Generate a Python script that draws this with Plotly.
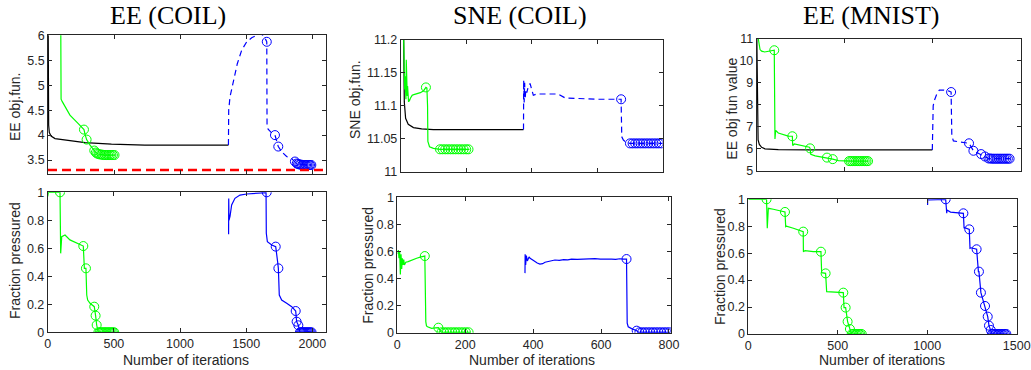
import plotly.graph_objects as go

W, H = 1031, 370

# ---------------- EE (COIL) ----------------
ee_coil_black_it = [0, 2, 3, 5, 10, 23, 53, 128, 280, 480, 733, 1365]
ee_coil_black_val = [7.0, 6.0, 4.6, 4.2, 4.05, 3.98, 3.93, 3.90, 3.85, 3.82, 3.80, 3.80]

ee_coil_green_it = [0, 90, 96, 98, 99, 108, 166, 229, 272, 280, 292, 318, 350, 362, 380, 400, 430, 460, 490, 507]
ee_coil_green_val = [9.0, 8.0, 6.5, 5.0, 4.72, 4.67, 4.40, 4.23, 4.11, 4.02, 3.91, 3.80, 3.69, 3.65, 3.62, 3.61, 3.60, 3.60, 3.60, 3.60]
ee_coil_green_mk_it = [272, 292, 350, 362, 372, 383, 395, 407, 419, 431, 443, 455, 467, 479, 491, 503]
ee_coil_green_mk_val = [4.11, 3.91, 3.69, 3.65, 3.63, 3.62, 3.61, 3.61, 3.60, 3.60, 3.60, 3.60, 3.60, 3.60, 3.60, 3.60]

ee_coil_blue_it = [1365, 1367, 1377, 1402, 1432, 1465, 1503, 1541, 1579, 1610, 1640, 1655, 1657, 1665, 1690, 1717,
                   1730, 1742, 1770, 1805, 1843, 1868, 1880, 1920, 1960, 1995]
ee_coil_blue_val = [3.80, 4.50, 4.77, 5.10, 5.43, 5.70, 5.87, 5.95, 6.01, 6.04, 5.95, 5.87, 4.20, 4.12, 4.05, 4.00,
                    3.88, 3.77, 3.66, 3.57, 3.53, 3.47, 3.43, 3.41, 3.40, 3.40]
ee_coil_blue_mk_it = [1655, 1717, 1742, 1868, 1882, 1892, 1902, 1912, 1922, 1932, 1942, 1952, 1962, 1972, 1982, 1992]
ee_coil_blue_mk_val = [5.87, 4.00, 3.77, 3.47, 3.43, 3.42, 3.41, 3.41, 3.40, 3.40, 3.40, 3.40, 3.40, 3.40, 3.40, 3.40]

ee_coil_ref_it = [0, 2100]
ee_coil_ref_val = [3.3, 3.3]

fp_ee_coil_green_it = [0, 1, 5, 93, 98, 106, 131, 168, 206, 244, 269, 277, 289, 295, 302, 320, 352, 362, 370, 383, 400, 450, 509]
fp_ee_coil_green_val = [0.97, 1.0, 1.0, 1.0, 0.564, 0.683, 0.695, 0.66, 0.643, 0.624, 0.616, 0.457, 0.457, 0.266,
                        0.23, 0.207, 0.183, 0.119, 0.052, 0.0, 0.0, 0.0, 0.0]
fp_ee_coil_green_mk_it = [93, 269, 289, 352, 362, 370, 383, 393, 403, 413, 423, 433, 443, 453, 463, 473, 483, 493, 503]
fp_ee_coil_green_mk_val = [1.0, 0.616, 0.457, 0.183, 0.119, 0.052, 0.0, 0.0, 0.0, 0.0, 0.0, 0.0, 0.0, 0.0, 0.0, 0.0, 0.0, 0.0, 0.0]

fp_ee_coil_blue_it = [1367, 1368, 1370, 1378, 1390, 1415, 1453, 1504, 1579, 1650, 1652, 1660, 1693, 1723, 1738, 1743,
                      1750, 1768, 1806, 1844, 1874, 1881, 1894, 1900, 1906, 1950, 1995]
fp_ee_coil_blue_val = [0.70, 0.955, 0.80, 0.83, 0.91, 0.957, 0.98, 0.988, 0.993, 0.998, 0.707, 0.647, 0.624, 0.612,
                       0.50, 0.457, 0.266, 0.23, 0.207, 0.183, 0.152, 0.076, 0.05, 0.026, 0.0, 0.0, 0.0]
fp_ee_coil_blue_mk_it = [1655, 1723, 1743, 1874, 1881, 1894, 1906, 1914, 1922, 1930, 1938, 1946, 1954, 1962, 1970, 1978, 1986, 1994]
fp_ee_coil_blue_mk_val = [1.0, 0.612, 0.457, 0.152, 0.076, 0.05, 0.0, 0.0, 0.0, 0.0, 0.0, 0.0, 0.0, 0.0, 0.0, 0.0, 0.0, 0.0]

# ---------------- SNE (COIL) ----------------
sne_black_it = [5, 9, 11, 15, 23, 39, 64, 100, 375]
sne_black_val = [11.4, 11.2, 11.106, 11.081, 11.072, 11.067, 11.065, 11.064, 11.064]

sne_green_it = [7, 9, 10, 11, 12, 13, 14, 15, 16, 17, 18, 19, 20, 21, 22, 23, 24, 25, 26, 30, 35, 40, 50, 60, 70,
                77, 80, 82, 83, 88, 100, 120, 150, 180, 210]
sne_green_val = [11.26, 11.2, 11.14, 11.16, 11.125, 11.145, 11.12, 11.135, 11.11, 11.17, 11.12, 11.14, 11.115, 11.13,
                 11.108, 11.12, 11.106, 11.11, 11.107, 11.112, 11.116, 11.117, 11.118, 11.12, 11.123, 11.128, 11.127,
                 11.1, 11.046, 11.038, 11.0355, 11.034, 11.034, 11.034, 11.034]
sne_green_mk_it = [77, 120, 128, 136, 144, 152, 160, 168, 176, 184, 192, 200, 207]
sne_green_mk_val = [11.128, 11.034, 11.034, 11.034, 11.034, 11.034, 11.034, 11.034, 11.034, 11.034, 11.034, 11.034, 11.034]

sne_blue_it = [375, 375.5, 377, 378.5, 380, 382, 385, 390, 395, 405, 415, 450, 481, 502, 542, 600, 644, 673, 675,
               680, 690, 700, 750, 800]
sne_blue_val = [11.064, 11.139, 11.105, 11.135, 11.11, 11.125, 11.12, 11.13, 11.134, 11.116, 11.118, 11.118, 11.118,
                11.112, 11.111, 11.11, 11.11, 11.11, 11.053, 11.048, 11.044, 11.043, 11.043, 11.043]
sne_blue_mk_it = [673, 700, 708, 716, 724, 732, 740, 748, 756, 764, 772, 780, 788, 796]
sne_blue_mk_val = [11.11, 11.043, 11.043, 11.043, 11.043, 11.043, 11.043, 11.043, 11.043, 11.043, 11.043, 11.043, 11.043, 11.043]

fp_sne_green_it = [2, 3, 5, 7, 9, 11, 13, 15, 17, 19, 21, 25, 32, 42, 57, 70, 81, 84, 86, 89, 101, 112, 121, 130, 170, 215]
fp_sne_green_val = [0.58, 0.61, 0.55, 0.60, 0.43, 0.58, 0.47, 0.55, 0.50, 0.54, 0.50, 0.52, 0.525, 0.537, 0.55, 0.56,
                    0.566, 0.08, 0.05, 0.044, 0.032, 0.035, 0.037, 0.003, 0.003, 0.003]
fp_sne_green_mk_it = [81, 121, 130, 138, 146, 154, 162, 170, 178, 186, 194, 202, 210]
fp_sne_green_mk_val = [0.566, 0.037, 0.003, 0.003, 0.003, 0.003, 0.003, 0.003, 0.003, 0.003, 0.003, 0.003, 0.003]

fp_sne_blue_it = [376, 376.5, 378, 380, 383, 388, 391, 400, 405, 412, 420, 428, 435, 450, 464, 477, 490, 502, 513,
                  530, 550, 565, 582, 598, 610, 620, 631, 643, 655, 665, 675, 677, 680, 690, 705, 710, 760, 803]
fp_sne_blue_val = [0.44, 0.58, 0.50, 0.57, 0.53, 0.56, 0.55, 0.535, 0.525, 0.515, 0.507, 0.51, 0.52, 0.53, 0.537,
                   0.534, 0.54, 0.538, 0.544, 0.541, 0.545, 0.543, 0.547, 0.543, 0.545, 0.542, 0.544, 0.541, 0.546,
                   0.543, 0.544, 0.07, 0.044, 0.03, 0.015, 0.003, 0.003, 0.003]
fp_sne_blue_mk_it = [675, 705, 713, 721, 729, 737, 745, 753, 761, 769, 777, 785, 793, 801]
fp_sne_blue_mk_val = [0.544, 0.015, 0.003, 0.003, 0.003, 0.003, 0.003, 0.003, 0.003, 0.003, 0.003, 0.003, 0.003, 0.003]

# ---------------- EE (MNIST) ----------------
mn_black_it = [0, 2, 4, 8, 15, 28, 47, 80, 123, 300, 1000]
mn_black_val = [11.5, 9.0, 7.0, 6.4, 6.2, 6.07, 6.0, 5.97, 5.96, 5.955, 5.95]

mn_green_it = [5, 9, 19, 28, 45, 60, 80, 100, 104, 108, 123, 150, 180, 203, 205, 214, 262, 300, 304, 308, 333, 371,
               400, 433, 465, 503, 540, 590, 636]
mn_green_val = [11.8, 11.0, 10.51, 10.44, 10.40, 10.42, 10.46, 10.48, 6.45, 6.84, 6.72, 6.65, 6.58, 6.57, 6.15, 6.22,
                6.15, 6.07, 6.02, 5.75, 5.68, 5.62, 5.60, 5.53, 5.46, 5.44, 5.44, 5.44, 5.44]
mn_green_mk_it = [100, 203, 304, 400, 433, 526, 535, 545, 555, 565, 575, 585, 595, 605, 615, 625, 634]
mn_green_mk_val = [10.48, 6.57, 6.02, 5.60, 5.53, 5.44, 5.44, 5.44, 5.44, 5.44, 5.44, 5.44, 5.44, 5.44, 5.44, 5.44, 5.44]

mn_blue_it = [1000, 1001, 1003, 1005, 1012, 1025, 1040, 1063, 1092, 1107, 1111, 1120, 1158, 1196, 1209, 1234, 1253,
              1278, 1300, 1310, 1320, 1380, 1443]
mn_blue_val = [5.95, 7.3, 7.8, 7.95, 8.2, 8.48, 8.67, 8.67, 8.63, 8.58, 6.59, 6.36, 6.31, 6.25, 6.25, 5.91, 5.83,
               5.76, 5.65, 5.60, 5.56, 5.55, 5.55]
mn_blue_mk_it = [1107, 1209, 1234, 1278, 1300, 1320, 1330, 1340, 1350, 1360, 1370, 1380, 1390, 1400, 1410, 1420, 1430, 1440]
mn_blue_mk_val = [8.58, 6.25, 5.91, 5.76, 5.65, 5.56, 5.56, 5.55, 5.55, 5.55, 5.55, 5.55, 5.55, 5.55, 5.55, 5.55, 5.55, 5.55]

fp_mn_green_it = [0, 102, 106, 112, 140, 168, 205, 209, 213, 252, 289, 307, 308, 317, 363, 406, 410, 432, 438, 494,
                  531, 535, 544, 555, 564, 568, 578, 610, 634]
fp_mn_green_val = [1.0, 1.0, 0.785, 0.933, 0.926, 0.916, 0.906, 0.797, 0.80, 0.785, 0.772, 0.76, 0.611, 0.619, 0.611,
                   0.611, 0.455, 0.45, 0.314, 0.309, 0.307, 0.196, 0.196, 0.092, 0.042, 0.037, 0.0, 0.0, 0.0]
fp_mn_green_mk_it = [102, 205, 307, 406, 432, 531, 544, 555, 568, 578, 586, 594, 602, 610, 618, 626, 634]
fp_mn_green_mk_val = [1.0, 0.906, 0.76, 0.611, 0.45, 0.307, 0.196, 0.092, 0.037, 0.0, 0.0, 0.0, 0.0, 0.0, 0.0, 0.0, 0.0]

fp_mn_blue_it = [1002, 1002.5, 1010, 1050, 1103, 1109, 1110, 1130, 1165, 1202, 1206, 1210, 1235, 1239, 1245, 1276,
                 1286, 1289, 1300, 1323, 1338, 1345, 1355, 1362, 1400, 1444]
fp_mn_blue_val = [0.958, 1.0, 0.995, 0.995, 1.0, 0.896, 0.92, 0.905, 0.90, 0.896, 0.785, 0.79, 0.777, 0.636, 0.64,
                  0.629, 0.463, 0.463, 0.307, 0.208, 0.129, 0.062, 0.03, 0.0, 0.0, 0.0]
fp_mn_blue_mk_it = [1103, 1202, 1235, 1276, 1289, 1300, 1323, 1338, 1345, 1355, 1362, 1370, 1378, 1386, 1394, 1402,
                    1410, 1418, 1426, 1434, 1442]
fp_mn_blue_mk_val = [1.0, 0.896, 0.777, 0.629, 0.463, 0.307, 0.208, 0.129, 0.062, 0.03, 0.0, 0.0, 0.0, 0.0, 0.0,
                     0.0, 0.0, 0.0, 0.0, 0.0, 0.0]

# ticks / labels
titles = ["EE (COIL)", "SNE (COIL)", "EE (MNIST)"]
top_ylabels = ["EE obj.fun.", "SNE obj.fun.", "EE obj fun value"]
bottom_ylabel = "Fraction pressured"
xlabel = "Number of iterations"
ee_coil_yticks = [3.5, 4, 4.5, 5, 5.5, 6]
ee_coil_yticktext = ["3.5", "4", "4.5", "5", "5.5", "6"]
sne_yticks = [11, 11.05, 11.1, 11.15, 11.2]
sne_yticktext = ["11", "11.05", "11.1", "11.15", "11.2"]
mn_yticks = [5, 6, 7, 8, 9, 10, 11]
frac_yticks = [0, 0.2, 0.4, 0.6, 0.8, 1]
frac_yticktext = ["0", "0.2", "0.4", "0.6", "0.8", "1"]
coil_xticks = [0, 500, 1000, 1500, 2000]
sne_xticks = [0, 200, 400, 600, 800]
mn_xticks = [0, 500, 1000, 1500]

GREEN = "#00ff00"
BLUE = "#0000ff"
AX = "#262626"

fig = go.Figure()


def dx(p):
    return p / W


def dy(p):
    return 1 - p / H


# axis boxes in pixels: (left, right, top, bottom), ranges
panels = [
    dict(box=(48, 325.6, 35.3, 174), xr=[0, 2100], yr=[3.22, 6], xt=coil_xticks, yt=ee_coil_yticks, ytt=ee_coil_yticktext, xl=False),
    dict(box=(47.7, 325.6, 192.3, 332.3), xr=[0, 2100], yr=[0, 1], xt=coil_xticks, yt=frac_yticks, ytt=frac_yticktext, xl=True),
    dict(box=(400.7, 662.7, 40, 171.7), xr=[0, 800], yr=[11, 11.2], xt=sne_xticks, yt=sne_yticks, ytt=sne_yticktext, xl=False),
    dict(box=(397.3, 671, 197.3, 332.7), xr=[0, 806], yr=[0, 1], xt=sne_xticks, yt=frac_yticks, ytt=frac_yticktext, xl=True),
    dict(box=(756.7, 1021, 38.8, 170.8), xr=[0, 1505], yr=[5, 11], xt=mn_xticks, yt=mn_yticks, ytt=[str(v) for v in mn_yticks], xl=False),
    dict(box=(748.3, 1016.7, 199.3, 334), xr=[0, 1500], yr=[0, 1], xt=mn_xticks, yt=frac_yticks, ytt=frac_yticktext, xl=True),
]

layout = dict(template="none", width=W, height=H, margin=dict(l=0, r=0, t=0, b=0, pad=0),
              paper_bgcolor="white", plot_bgcolor="white", showlegend=False)

for i, p in enumerate(panels):
    n = "" if i == 0 else str(i + 1)
    l, r, t, b = p["box"]
    common = dict(showline=True, linecolor=AX, linewidth=0.8, mirror="ticks", ticks="inside", ticklen=4,
                  tickwidth=0.8, tickcolor=AX, showgrid=False, zeroline=False, automargin=False,
                  tickfont=dict(family="Liberation Sans, Arial", size=12.5, color=AX))
    layout["xaxis" + n] = dict(common, domain=[dx(l), dx(r)], range=p["xr"], anchor="y" + n,
                               tickvals=p["xt"], ticktext=[str(v) for v in p["xt"]], showticklabels=p["xl"])
    layout["yaxis" + n] = dict(common, domain=[dy(b), dy(t)], range=p["yr"], anchor="x" + n,
                               tickvals=p["yt"], ticktext=p["ytt"])

fig.update_layout(**layout)


def line(ax, x, y, color, width=1.2, dash=None):
    n = "" if ax == 1 else str(ax)
    fig.add_trace(go.Scatter(x=x, y=y, mode="lines", line=dict(color=color, width=width, dash=dash),
                             xaxis="x" + n, yaxis="y" + n, hoverinfo="skip"))


def marks(ax, x, y, color):
    n = "" if ax == 1 else str(ax)
    fig.add_trace(go.Scatter(x=x, y=y, mode="markers",
                             marker=dict(symbol="circle-open", size=9, color=color, line=dict(width=1, color=color)),
                             xaxis="x" + n, yaxis="y" + n, hoverinfo="skip"))


DASH = "6px,4px"
# EE COIL top
line(1, ee_coil_black_it, ee_coil_black_val, "black")
line(1, ee_coil_green_it, ee_coil_green_val, GREEN)
marks(1, ee_coil_green_mk_it, ee_coil_green_mk_val, GREEN)
line(1, ee_coil_blue_it, ee_coil_blue_val, BLUE, dash=DASH)
marks(1, ee_coil_blue_mk_it, ee_coil_blue_mk_val, BLUE)
line(1, ee_coil_ref_it, ee_coil_ref_val, "#ff0000", width=2.5, dash="9px,5px")
# EE COIL bottom
line(2, fp_ee_coil_green_it, fp_ee_coil_green_val, GREEN)
marks(2, fp_ee_coil_green_mk_it, fp_ee_coil_green_mk_val, GREEN)
line(2, fp_ee_coil_blue_it, fp_ee_coil_blue_val, BLUE)
marks(2, fp_ee_coil_blue_mk_it, fp_ee_coil_blue_mk_val, BLUE)
# SNE top
line(3, sne_black_it, sne_black_val, "black")
line(3, sne_green_it, sne_green_val, GREEN)
marks(3, sne_green_mk_it, sne_green_mk_val, GREEN)
line(3, sne_blue_it, sne_blue_val, BLUE, dash=DASH)
marks(3, sne_blue_mk_it, sne_blue_mk_val, BLUE)
# SNE bottom
line(4, fp_sne_green_it, fp_sne_green_val, GREEN)
marks(4, fp_sne_green_mk_it, fp_sne_green_mk_val, GREEN)
line(4, fp_sne_blue_it, fp_sne_blue_val, BLUE)
marks(4, fp_sne_blue_mk_it, fp_sne_blue_mk_val, BLUE)
# MNIST top
line(5, mn_black_it, mn_black_val, "black")
line(5, mn_green_it, mn_green_val, GREEN)
marks(5, mn_green_mk_it, mn_green_mk_val, GREEN)
line(5, mn_blue_it, mn_blue_val, BLUE, dash=DASH)
marks(5, mn_blue_mk_it, mn_blue_mk_val, BLUE)
# MNIST bottom
line(6, fp_mn_green_it, fp_mn_green_val, GREEN)
marks(6, fp_mn_green_mk_it, fp_mn_green_mk_val, GREEN)
line(6, fp_mn_blue_it, fp_mn_blue_val, BLUE)
marks(6, fp_mn_blue_mk_it, fp_mn_blue_mk_val, BLUE)

annots = []
for txt, cx in zip(titles, [168, 520, 871]):
    annots.append(dict(text=txt, x=dx(cx), y=dy(15), xref="paper", yref="paper", showarrow=False,
                       xanchor="center", yanchor="middle",
                       font=dict(family="Liberation Serif, Times New Roman", size=26, color="black")))
for txt, cx, cy in zip(top_ylabels, [15, 355, 731.7], [107, 100, 109]):
    annots.append(dict(text=txt, x=dx(cx), y=dy(cy), xref="paper", yref="paper", showarrow=False, textangle=-90,
                       xanchor="center", yanchor="middle",
                       font=dict(family="Liberation Sans, Arial", size=14, color=AX)))
for cx, cy in zip([15, 367.7, 719.3], [261, 265, 266.7]):
    annots.append(dict(text=bottom_ylabel, x=dx(cx), y=dy(cy), xref="paper", yref="paper", showarrow=False,
                       textangle=-90, xanchor="center", yanchor="middle",
                       font=dict(family="Liberation Sans, Arial", size=14, color=AX)))
for cx in [185.5, 532, 881.7]:
    annots.append(dict(text=xlabel, x=dx(cx), y=dy(360), xref="paper", yref="paper", showarrow=False,
                       xanchor="center", yanchor="middle",
                       font=dict(family="Liberation Sans, Arial", size=14, color=AX)))
fig.update_layout(annotations=annots)

fig.write_html("out.html", config={"displayModeBar": False},
               post_script="document.body.style.margin='0';document.body.style.padding='0';")
